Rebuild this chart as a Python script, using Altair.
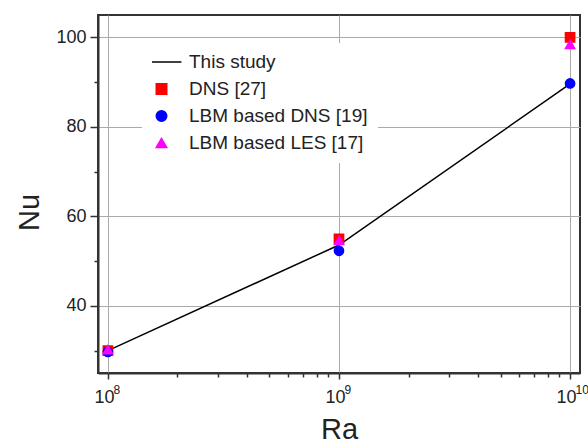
import altair as alt
import pandas as pd

# ---- data ----
ra_values = [1e8, 1e9, 1e10]
this_study = [30.0, 53.6, 89.6]
dns_27 = [30.0, 55.0, 100.0]
lbm_dns_19 = [29.7, 52.3, 89.7]
lbm_les_17 = [30.2, 54.6, 98.4]

series_names = ["This study", "DNS [27]", "LBM based DNS [19]", "LBM based LES [17]"]
series_colors = ["#000000", "#ff0000", "#0000ff", "#ff00ff"]
series_shapes = ["M-3.8,0L3.8,0", "square", "circle", "triangle-up"]

x_major = [1e8, 1e9, 1e10]
x_minor = [2e8, 3e8, 4e8, 5e8, 6e8, 7e8, 8e8, 9e8,
           2e9, 3e9, 4e9, 5e9, 6e9, 7e9, 8e9, 9e9]
y_major = [40, 60, 80, 100]
y_minor = [30, 50, 70, 90]

line_df = pd.DataFrame({"Ra": ra_values, "Nu": this_study, "series": series_names[0]})
pts_df = pd.concat([
    pd.DataFrame({"Ra": ra_values, "Nu": dns_27, "series": series_names[1]}),
    pd.DataFrame({"Ra": ra_values, "Nu": lbm_dns_19, "series": series_names[2]}),
    pd.DataFrame({"Ra": ra_values, "Nu": lbm_les_17, "series": series_names[3]}),
], ignore_index=True)

FONT = "Liberation Sans"
xs = alt.Scale(type="log", domain=[9.06e7, 1.104e10], nice=False)
ys = alt.Scale(domain=[25, 105], nice=False, zero=False)

exp_expr = "format(log(datum.value) / log(10), '.0f')"

line = alt.Chart(line_df).mark_line(color="black", strokeWidth=1.5).encode(
    x=alt.X("Ra:Q", scale=xs, title="Ra",
            axis=alt.Axis(values=x_major, labelExpr="'10'", tickSize=6,
                          labelPadding=9, labelOffset=-4, grid=True, orient="bottom",
                          titleY=65, titleBaseline="alphabetic")),
    y=alt.Y("Nu:Q", scale=ys, title="Nu",
            axis=alt.Axis(values=y_major, tickSize=8, labelPadding=4, grid=True,
                          orient="left", titleX=-60, titleY=197, titleAngle=-90,
                          titleAlign="center", titleBaseline="alphabetic")),
)

# exponent labels of the x axis (superscripts)
expo = alt.Chart(line_df).mark_line(opacity=0).encode(
    x=alt.X("Ra:Q", scale=xs, title=None,
            axis=alt.Axis(values=x_major, labelExpr=exp_expr, labelFontSize=12,
                          labelAlign="left", labelOffset=5, tickSize=6, tickOpacity=0,
                          labelPadding=5, grid=False, domain=False, orient="bottom")),
    y=alt.Y("Nu:Q", scale=ys, axis=None),
)

leg = alt.Legend(title=None, orient="none", legendX=44, legendY=28,
                 labelFont=FONT, labelFontSize=19, labelColor="#222222",
                 labelOffset=18, labelLimit=400, clipHeight=18, rowPadding=8,
                 padding=10, fillColor="white", symbolSize=110)

pts = alt.Chart(pts_df).mark_point(filled=True, opacity=1, size=85, strokeWidth=1.5).encode(
    x=alt.X("Ra:Q", scale=xs, title=None,
            axis=alt.Axis(values=x_minor, labels=False, grid=False, domain=False,
                          tickSize=4, orient="bottom")),
    y=alt.Y("Nu:Q", scale=ys, title=None,
            axis=alt.Axis(values=y_minor, labels=False, grid=False, domain=False,
                          tickSize=4, orient="left")),
    fill=alt.Fill("series:N", scale=alt.Scale(domain=series_names, range=series_colors), legend=leg),
    stroke=alt.Stroke("series:N", scale=alt.Scale(domain=series_names, range=series_colors), legend=leg),
    shape=alt.Shape("series:N", scale=alt.Scale(domain=series_names, range=series_shapes), legend=leg),
)

chart = alt.layer(line, expo, pts).resolve_axis(x="independent", y="independent").properties(
    width=482, height=358,
    autosize=alt.AutoSizeParams(type="none"),
    padding={"left": 98, "top": 15, "right": 8, "bottom": 70},
    background="white",
).configure_axis(
    labelFont=FONT, labelFontSize=18, labelColor="#222222",
    tickColor="#333333", tickWidth=1.5,
    domainColor="#333333", domainWidth=2,
    gridColor="#aaaaaa", gridWidth=1,
    titleFont=FONT, titleFontSize=29, titleFontWeight="normal", titleColor="#222222",
).configure_view(stroke="#333333", strokeWidth=2)

chart.save("out.html", embed_options={"renderer": "svg", "actions": False})
